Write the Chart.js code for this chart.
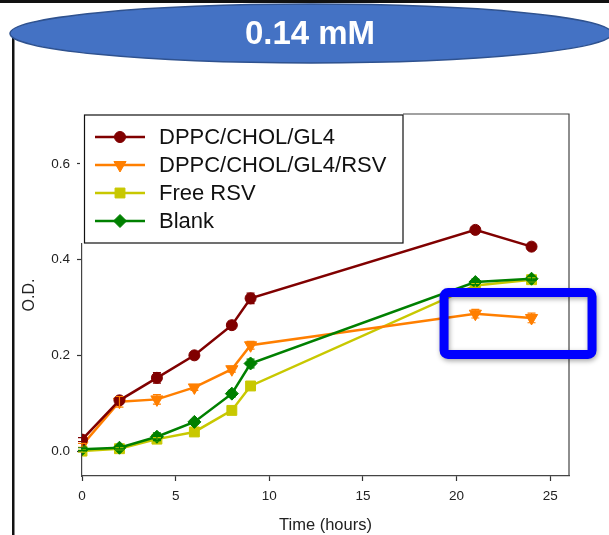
<!DOCTYPE html>
<html>
<head>
<meta charset="utf-8">
<script src="https://cdn.jsdelivr.net/npm/chart.js@4/dist/chart.umd.min.js"></script>
<style>
  html, body { margin: 0; padding: 0; background: #fff; }
  #wrap { position: relative; width: 609px; height: 535px; }
</style>
</head>
<body>
<div id="wrap"><canvas id="chart" width="609" height="535"></canvas></div>
<script>
// data
const times = [0, 2, 4, 6, 8, 9, 21, 24];
const seriesNames = ['DPPC/CHOL/GL4', 'DPPC/CHOL/GL4/RSV', 'Free RSV', 'Blank'];
const gl4 = [0.024, 0.106, 0.153, 0.200, 0.263, 0.319, 0.462, 0.427];
const gl4Rsv = [0.012, 0.103, 0.108, 0.133, 0.171, 0.221, 0.287, 0.278];
const freeRsv = [0.000, 0.005, 0.025, 0.040, 0.085, 0.136, 0.346, 0.358];
const blank = [0.004, 0.007, 0.030, 0.061, 0.120, 0.183, 0.353, 0.360];
const gl4Err = [0.004, 0.006, 0.011, 0.006, 0.008, 0.011, 0.005, 0.005];
const gl4RsvErr = [0.004, 0.011, 0.010, 0.006, 0.006, 0.008, 0.009, 0.010];
const freeRsvErr = [0.002, 0.002, 0.003, 0.003, 0.003, 0.004, 0.004, 0.004];
const blankErr = [0.003, 0.003, 0.008, 0.005, 0.007, 0.009, 0.006, 0.005];
const xTicks = [0, 5, 10, 15, 20, 25];
const yTicks = [0.0, 0.2, 0.4, 0.6];
const titleText = '0.14 mM';
// highlight box, in data units
const highlight = { x1: 19.33, x2: 27.23, y1: 0.331, y2: 0.202 };

const colors = ['#800000', '#ff7f00', '#c8c800', '#008000'];
const markers = ['circle', 'triangle', 'rect', 'rectRot'];
const rotations = [0, 180, 0, 0];
const radii = [5.5, 7, 7, 6.5];
const values = [gl4, gl4Rsv, freeRsv, blank];
const errors = [gl4Err, gl4RsvErr, freeRsvErr, blankErr];
const drawOrder = [0, 2, 3, 1];
const FONT = 'Arial, "Liberation Sans", sans-serif';

const datasets = seriesNames.map((name, i) => ({
  label: name,
  data: times.map((t, j) => ({ x: t, y: values[i][j] })),
  err: errors[i],
  borderColor: colors[i],
  backgroundColor: colors[i],
  borderWidth: 2.5,
  pointStyle: markers[i],
  pointRotation: rotations[i],
  pointRadius: radii[i],
  pointBorderWidth: 1,
  tension: 0,
  order: drawOrder[i],
}));

const decor = {
  id: 'decor',
  beforeDraw(chart) {
    const c = chart.ctx;
    c.save();
    c.fillStyle = '#fff';
    c.fillRect(0, 0, chart.width, chart.height);
    // slide border lines
    c.fillStyle = '#111';
    c.fillRect(0, 0, chart.width, 3);
    c.fillRect(12, 30, 2.5, chart.height - 30);
    // plot frame (top and right)
    const a = chart.chartArea;
    c.strokeStyle = '#444';
    c.lineWidth = 1.2;
    c.beginPath();
    c.moveTo(a.left, a.top);
    c.lineTo(a.right, a.top);
    c.lineTo(a.right, a.bottom);
    c.stroke();
    c.restore();
  },
  afterDatasetsDraw(chart) {
    const c = chart.ctx;
    const xs = chart.scales.x, ys = chart.scales.y;
    c.save();
    // error bars
    chart.data.datasets.forEach((ds) => {
      c.strokeStyle = ds.borderColor;
      c.lineWidth = 1.2;
      ds.data.forEach((p, j) => {
        const e = ds.err[j];
        const px = xs.getPixelForValue(p.x);
        const top = ys.getPixelForValue(p.y + e);
        const bot = ys.getPixelForValue(p.y - e);
        c.beginPath();
        c.moveTo(px, top); c.lineTo(px, bot);
        c.moveTo(px - 4, top); c.lineTo(px + 4, top);
        c.moveTo(px - 4, bot); c.lineTo(px + 4, bot);
        c.stroke();
      });
    });
    c.restore();
  },
  afterDraw(chart) {
    const c = chart.ctx;
    const a = chart.chartArea;
    const xs = chart.scales.x, ys = chart.scales.y;
    c.save();
    // legend box
    const lx = a.left + 1, ly = a.top + 1, lw = 320, lh = 128;
    c.fillStyle = '#fff';
    c.fillRect(lx - 3, a.top - 1, lw + 3, lh + 2);
    c.strokeStyle = '#111';
    c.lineWidth = 1.2;
    c.strokeRect(lx + 1.5, ly, lw - 1.5, lh);
    const rowGap = 28;
    chart.data.datasets.forEach((ds, i) => {
      const y = ly + 22 + i * rowGap;
      c.strokeStyle = ds.borderColor;
      c.lineWidth = 2.5;
      c.beginPath();
      c.moveTo(lx + 12, y); c.lineTo(lx + 62, y);
      c.stroke();
      c.lineWidth = 1;
      c.fillStyle = ds.backgroundColor;
      Chart.helpers.drawPoint(c, {
        pointStyle: ds.pointStyle, rotation: ds.pointRotation,
        radius: ds.pointRadius, borderWidth: 1
      }, lx + 37, y);
      c.fillStyle = '#111';
      c.font = '22px ' + FONT;
      c.textBaseline = 'middle';
      c.textAlign = 'left';
      c.fillText(ds.label, lx + 76, y + 1);
    });
    // highlight rectangle
    const hx1 = xs.getPixelForValue(highlight.x1), hx2 = xs.getPixelForValue(highlight.x2);
    const hy1 = ys.getPixelForValue(highlight.y1), hy2 = ys.getPixelForValue(highlight.y2);
    c.shadowColor = 'rgba(0,0,0,0.35)';
    c.shadowBlur = 5;
    c.shadowOffsetX = 1;
    c.shadowOffsetY = 2;
    c.strokeStyle = '#0000ff';
    c.lineWidth = 9;
    c.beginPath();
    c.roundRect(hx1, hy1, hx2 - hx1, hy2 - hy1, 4);
    c.stroke();
    c.shadowColor = 'transparent';
    // title ellipse
    c.fillStyle = '#4472c4';
    c.strokeStyle = '#2f528f';
    c.lineWidth = 1.5;
    c.beginPath();
    c.ellipse(311, 33.5, 301, 29.5, 0, 0, Math.PI * 2);
    c.fill();
    c.stroke();
    c.fillStyle = '#fff';
    c.font = 'bold 33px ' + FONT;
    c.textAlign = 'center';
    c.textBaseline = 'middle';
    c.fillText(titleText, 310, 35);
    c.restore();
  }
};

new Chart(document.getElementById('chart'), {
  type: 'line',
  data: { datasets },
  options: {
    responsive: false,
    animation: false,
    devicePixelRatio: 1,
    layout: { padding: { left: 20, right: 40, top: 114, bottom: 0 } },
    plugins: { legend: { display: false }, tooltip: { enabled: false } },
    scales: {
      x: {
        type: 'linear',
        min: 0,
        max: 26,
        afterBuildTicks: (s) => { s.ticks = xTicks.map(v => ({ value: v })); },
        afterFit: (s) => { s.height = 59; },
        ticks: {
          color: '#222',
          font: { family: FONT, size: 13.5 },
          padding: 7,
          maxRotation: 0,
          callback: (v) => String(v),
        },
        grid: { drawOnChartArea: false, tickLength: 5, tickColor: '#333', tickWidth: 1.2 },
        border: { color: '#444', width: 1.2 },
        title: {
          display: true, text: 'Time (hours)', color: '#222',
          font: { family: FONT, size: 16.5 },
          padding: { top: 0, bottom: 0 }
        }
      },
      y: {
        type: 'linear',
        min: -0.052,
        max: 0.704,
        afterBuildTicks: (s) => { s.ticks = yTicks.map(v => ({ value: v })); },
        afterFit: (s) => { s.width = 62; },
        ticks: {
          color: '#222',
          font: { family: FONT, size: 13.5 },
          padding: 7,
          callback: (v) => v.toFixed(1),
        },
        grid: { drawOnChartArea: false, tickLength: 5, tickColor: '#333', tickWidth: 1.2 },
        border: { color: '#444', width: 1.2 },
        title: {
          display: true, text: 'O.D.', color: '#222',
          font: { family: FONT, size: 16 },
          padding: { top: 0, bottom: 0 }
        }
      }
    }
  },
  plugins: [decor]
});
</script>
</body>
</html>
